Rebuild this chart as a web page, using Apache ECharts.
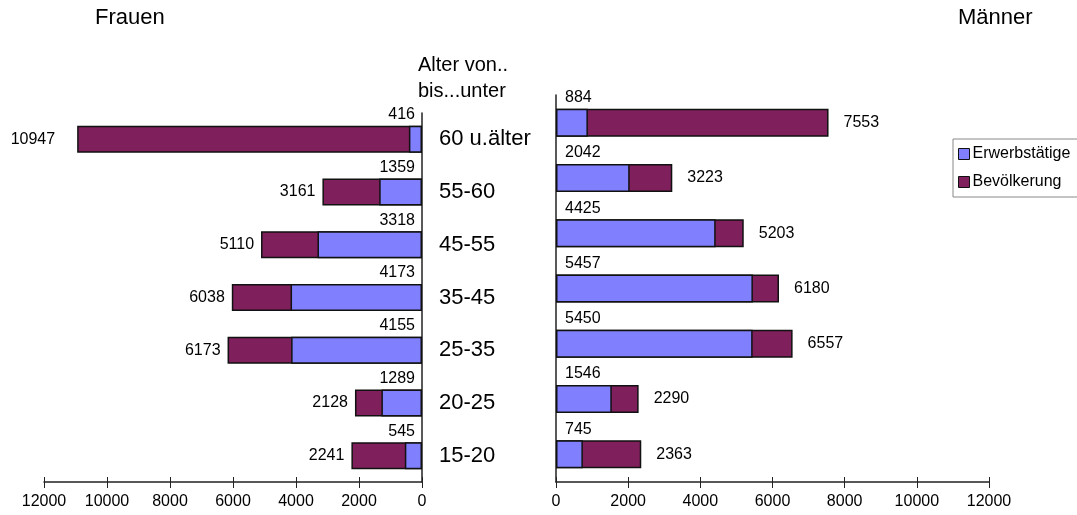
<!DOCTYPE html>
<html>
<head>
<meta charset="utf-8">
<script src="https://cdn.jsdelivr.net/npm/echarts@6/dist/echarts.min.js"></script>
<style>
html, body { margin: 0; padding: 0; background: #fff; }
#plot { width: 1077px; height: 515px; }
</style>
</head>
<body>
<div id="plot"></div>
<script>
// age groups, top to bottom
var ageGroups = ['60 u.älter', '55-60', '45-55', '35-45', '25-35', '20-25', '15-20'];
var womenEmployed = [416, 1359, 3318, 4173, 4155, 1289, 545];
var womenPopulation = [10947, 3161, 5110, 6038, 6173, 2128, 2241];
var menEmployed = [884, 2042, 4425, 5457, 5450, 1546, 745];
var menPopulation = [7553, 3223, 5203, 6180, 6557, 2290, 2363];
var axisTicks = [0, 2000, 4000, 6000, 8000, 10000, 12000];

var FONT = '"Liberation Sans", Arial, sans-serif';
var BLUE = '#8080ff';
var MAROON = '#7f1f5b';

var charts = echarts.init(document.getElementById('plot'));

function valueAxis(grid, inverse, main) {
    return {
        type: 'value',
        gridIndex: grid,
        inverse: inverse,
        min: axisTicks[0],
        max: axisTicks[axisTicks.length - 1],
        interval: axisTicks[1] - axisTicks[0],
        position: 'bottom',
        splitLine: { show: false },
        axisLine: { show: main, lineStyle: { color: '#222', width: 1.5 } },
        axisTick: { show: true, inside: !main, length: main ? 6 : 5, lineStyle: { color: '#222', width: 1 } },
        axisLabel: {
            show: main, margin: 12, color: '#000',
            fontFamily: FONT, fontSize: 16,
            formatter: function (v) { return String(v); }
        }
    };
}

var labelFont = { color: '#000', fontFamily: FONT, fontSize: 16 };
var barBorder = { borderColor: '#111', borderWidth: 1.5 };

charts.setOption({
    animation: false,
    backgroundColor: '#fff',
    textStyle: { fontFamily: FONT },
    grid: [
        { left: 44, width: 378, top: 113, height: 369 },
        { left: 556, width: 433, top: 95, height: 387 }
    ],
    graphic: [
        { type: 'text', left: 95, top: 7, style: { text: 'Frauen', font: '22px ' + FONT, fill: '#000' } },
        { type: 'text', left: 958, top: 7, style: { text: 'Männer', font: '22px ' + FONT, fill: '#000' } },
        { type: 'text', left: 418, top: 52, style: { text: 'Alter von..\nbis...unter', font: '20px ' + FONT, lineHeight: 26, fill: '#000' } }
    ],
    legend: {
        orient: 'vertical',
        left: 953,
        top: 139,
        padding: [7, 30, 7, 5],
        itemGap: 12,
        itemWidth: 11,
        itemHeight: 11,
        icon: 'rect',
        borderColor: '#888',
        borderWidth: 1,
        data: ['Erwerbstätige', 'Bevölkerung'],
        textStyle: { color: '#000', fontFamily: FONT, fontSize: 16, padding: [0, 0, 0, -2] },
        itemStyle: { borderColor: '#111', borderWidth: 1 }
    },
    xAxis: [
        valueAxis(0, true, true),
        valueAxis(0, true, false),
        valueAxis(1, false, true),
        valueAxis(1, false, false)
    ],
    yAxis: [
        {
            type: 'category', gridIndex: 0, data: ageGroups, inverse: true,
            position: 'right',
            axisLine: { show: true, lineStyle: { color: '#222', width: 1.5 } },
            axisTick: { show: false },
            axisLabel: { margin: 17, align: 'left', color: '#000', fontFamily: FONT, fontSize: 22 }
        },
        {
            type: 'category', gridIndex: 1, data: ageGroups, inverse: true,
            axisLine: { show: true, lineStyle: { color: '#222', width: 1.5 } },
            axisTick: { show: false },
            axisLabel: { show: false }
        }
    ],
    series: [
        {
            name: 'Bevölkerung', type: 'bar', xAxisIndex: 0, yAxisIndex: 0,
            barWidth: 27, barGap: '-100%',
            itemStyle: Object.assign({ color: MAROON }, barBorder),
            label: Object.assign({ show: true, position: 'left', distance: 7 }, labelFont),
            data: womenPopulation.map(function (v, i) {
                return i === 0 ? { value: v, label: { distance: 22 } } : v;
            })
        },
        {
            name: 'Erwerbstätige', type: 'bar', xAxisIndex: 0, yAxisIndex: 0,
            barWidth: 27, barGap: '-100%',
            itemStyle: Object.assign({ color: BLUE }, barBorder),
            label: Object.assign({
                show: true, position: ['100%', -3], offset: [-7, 0],
                align: 'right', verticalAlign: 'bottom'
            }, labelFont),
            data: womenEmployed
        },
        {
            name: 'Bevölkerung', type: 'bar', xAxisIndex: 2, yAxisIndex: 1,
            barWidth: 28, barGap: '-100%',
            itemStyle: Object.assign({ color: MAROON }, barBorder),
            label: Object.assign({ show: true, position: 'right', distance: 15 }, labelFont),
            data: menPopulation
        },
        {
            name: 'Erwerbstätige', type: 'bar', xAxisIndex: 2, yAxisIndex: 1,
            barWidth: 28, barGap: '-100%',
            itemStyle: Object.assign({ color: BLUE }, barBorder),
            label: Object.assign({
                show: true, position: [0, -3], offset: [9, 0],
                align: 'left', verticalAlign: 'bottom'
            }, labelFont),
            data: menEmployed
        }
    ]
});
</script>
</body>
</html>
